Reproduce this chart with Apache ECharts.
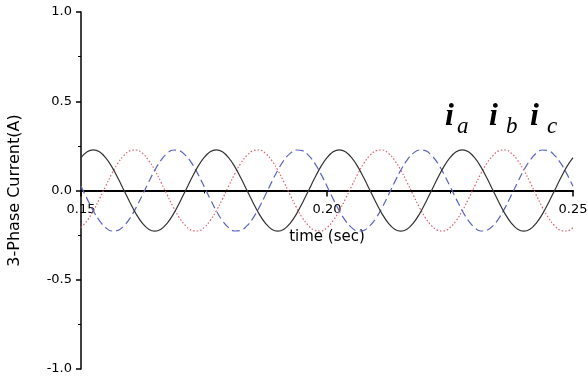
<!DOCTYPE html>
<html>
<head>
<meta charset="utf-8">
<script src="https://cdn.jsdelivr.net/npm/echarts@6/dist/echarts.min.js"></script>
<style>
  html, body { margin: 0; padding: 0; background: #fff; }
  #chart { width: 588px; height: 379px; }
</style>
</head>
<body>
<div id="chart"></div>
<script>
// Sampling grid of the phase currents (seconds)
const tStart = 0.15;
const tStep = 0.00125;

// Phase currents (A), one sample per grid step
const iaValues = [
  0.184, 0.217, 0.228, 0.217, 0.184, 0.134, 0.070, 0.000, -0.070, -0.134,
  -0.184, -0.217, -0.228, -0.217, -0.184, -0.134, -0.070, 0.000, 0.070, 0.134,
  0.184, 0.217, 0.228, 0.217, 0.184, 0.134, 0.070, 0.000, -0.070, -0.134,
  -0.184, -0.217, -0.228, -0.217, -0.184, -0.134, -0.070, 0.000, 0.070, 0.134,
  0.184, 0.217, 0.228, 0.217, 0.184, 0.134, 0.070, 0.000, -0.070, -0.134,
  -0.184, -0.217, -0.228, -0.217, -0.184, -0.134, -0.070, 0.000, 0.070, 0.134,
  0.184, 0.217, 0.228, 0.217, 0.184, 0.134, 0.070, 0.000, -0.070, -0.134,
  -0.184, -0.217, -0.228, -0.217, -0.184, -0.134, -0.070, 0.000, 0.070, 0.134,
  0.184
];
const ibValues = [
  -0.208, -0.169, -0.114, -0.047, 0.024, 0.093, 0.153, 0.197, 0.223, 0.227,
  0.208, 0.169, 0.114, 0.047, -0.024, -0.093, -0.153, -0.197, -0.223, -0.227,
  -0.208, -0.169, -0.114, -0.047, 0.024, 0.093, 0.153, 0.197, 0.223, 0.227,
  0.208, 0.169, 0.114, 0.047, -0.024, -0.093, -0.153, -0.197, -0.223, -0.227,
  -0.208, -0.169, -0.114, -0.047, 0.024, 0.093, 0.153, 0.197, 0.223, 0.227,
  0.208, 0.169, 0.114, 0.047, -0.024, -0.093, -0.153, -0.197, -0.223, -0.227,
  -0.208, -0.169, -0.114, -0.047, 0.024, 0.093, 0.153, 0.197, 0.223, 0.227,
  0.208, 0.169, 0.114, 0.047, -0.024, -0.093, -0.153, -0.197, -0.223, -0.227,
  -0.208
];
const icValues = [
  0.024, -0.047, -0.114, -0.169, -0.208, -0.227, -0.223, -0.197, -0.153, -0.093,
  -0.024, 0.047, 0.114, 0.169, 0.208, 0.227, 0.223, 0.197, 0.153, 0.093,
  0.024, -0.047, -0.114, -0.169, -0.208, -0.227, -0.223, -0.197, -0.153, -0.093,
  -0.024, 0.047, 0.114, 0.169, 0.208, 0.227, 0.223, 0.197, 0.153, 0.093,
  0.024, -0.047, -0.114, -0.169, -0.208, -0.227, -0.223, -0.197, -0.153, -0.093,
  -0.024, 0.047, 0.114, 0.169, 0.208, 0.227, 0.223, 0.197, 0.153, 0.093,
  0.024, -0.047, -0.114, -0.169, -0.208, -0.227, -0.223, -0.197, -0.153, -0.093,
  -0.024, 0.047, 0.114, 0.169, 0.208, 0.227, 0.223, 0.197, 0.153, 0.093,
  0.024
];

// Axis settings
const xMin = 0.15, xMax = 0.25, xInterval = 0.05;
const yMin = -1.0, yMax = 1.0, yInterval = 0.5;
const xTitle = 'time (sec)';
const yTitle = '3-Phase Current(A)';
const phaseNames = ['a', 'b', 'c'];

function pairs(values) {
  return values.map((v, k) => [+(tStart + k * tStep).toFixed(5), v]);
}

const sans = 'DejaVu Sans';
const gridTop = 12, gridBottom = 10;
const plotHeight = 379 - gridTop - gridBottom;

const chart = echarts.init(document.getElementById('chart'), null, { renderer: 'canvas' });

// Phase labels: large bold italic "i" with an italic subscript
const labelX = [445, 489, 530];
const subX = [457, 506, 547];
const graphics = [];
phaseNames.forEach((p, n) => {
  graphics.push({
    type: 'text', left: labelX[n], top: 101, z: 100,
    style: { text: 'i', font: 'italic bold 32px "Liberation Serif"', fill: '#000' }
  });
  graphics.push({
    type: 'text', left: subX[n], top: 115, z: 100,
    style: { text: p, font: 'italic 23px "Liberation Serif"', fill: '#000' }
  });
});

chart.setOption({
  animation: false,
  backgroundColor: '#fff',
  grid: { left: 81, right: 15, top: gridTop, bottom: gridBottom,
    containLabel: false, outerBoundsMode: 'none' },
  xAxis: {
    type: 'value', min: xMin, max: xMax, interval: xInterval,
    position: 'bottom', offset: -plotHeight / 2,
    name: xTitle, nameLocation: 'middle', nameGap: 39,
    nameTextStyle: { fontFamily: sans, fontSize: 15, color: '#000' },
    axisLine: { onZero: false, lineStyle: { color: '#000', width: 2 } },
    axisTick: { show: true, inside: false, length: 6, lineStyle: { color: '#000', width: 1.5 } },
    minorTick: { show: true, splitNumber: 2, length: 3, lineStyle: { color: '#000', width: 1 } },
    axisLabel: { fontFamily: sans, fontSize: 13, color: '#000', margin: 13,
      formatter: v => v.toFixed(2) },
    splitLine: { show: false }
  },
  yAxis: {
    type: 'value', min: yMin, max: yMax, interval: yInterval,
    name: yTitle, nameLocation: 'middle', nameGap: 58, nameRotate: 90,
    nameTextStyle: { fontFamily: sans, fontSize: 16, color: '#000' },
    axisLine: { show: true, onZero: false, lineStyle: { color: '#000', width: 1.5 } },
    axisTick: { show: true, inside: false, length: 5, lineStyle: { color: '#000', width: 1.5 } },
    minorTick: { show: true, splitNumber: 2, length: 3, lineStyle: { color: '#000', width: 1 } },
    axisLabel: { fontFamily: sans, fontSize: 13, color: '#000', margin: 9,
      formatter: v => v.toFixed(1) },
    splitLine: { show: false }
  },
  graphic: graphics,
  series: [
    {
      name: 'ia', type: 'line', data: pairs(iaValues), smooth: 0.4, showSymbol: false,
      lineStyle: { color: '#333', width: 1.2, type: 'solid' }, z: 3
    },
    {
      name: 'ib', type: 'line', data: pairs(ibValues), smooth: 0.4, showSymbol: false,
      lineStyle: { color: '#e0606e', width: 1.2, type: [1.5, 2] }, z: 2
    },
    {
      name: 'ic', type: 'line', data: pairs(icValues), smooth: 0.4, showSymbol: false,
      lineStyle: { color: '#5a64c0', width: 1.2, type: [8, 4] }, z: 2
    }
  ]
});
</script>
</body>
</html>
